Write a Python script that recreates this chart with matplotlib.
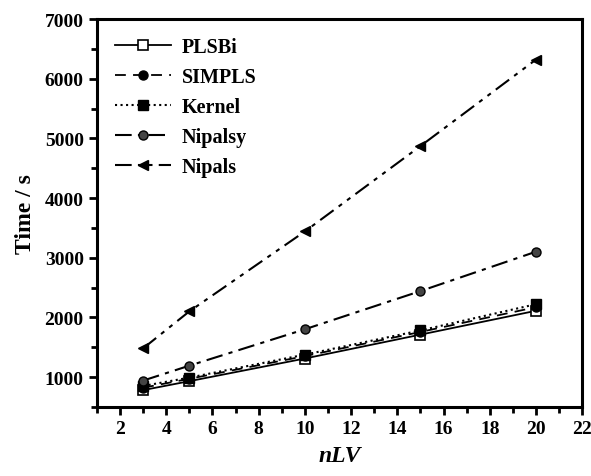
import numpy as np
import matplotlib
matplotlib.use('Agg')
import matplotlib.pyplot as plt
from matplotlib.ticker import MultipleLocator

plt.rcParams['font.family'] = 'Liberation Serif'
plt.rcParams['font.weight'] = 'bold'

# data
n_lv = [3, 5, 10, 15, 20]
plsbi = [780, 930, 1310, 1710, 2110]
simpls = [820, 970, 1350, 1755, 2170]
kernel = [850, 990, 1375, 1780, 2220]
nipalsy = [940, 1190, 1800, 2440, 3100]
nipals = [1480, 2100, 3440, 4870, 6320]

fig = plt.figure(figsize=(5.91, 4.77), dpi=100)
ax = fig.add_axes([0.164, 0.145, 0.821, 0.813])

ms = 6.5
ax.plot(n_lv, plsbi, '-', color='black', lw=1.3, marker='s', ms=ms,
        mfc='white', mec='black', mew=1.2, label='PLSBi')
ax.plot(n_lv, simpls, '--', color='black', lw=1.3, marker='o', ms=ms,
        mfc='black', mec='black', dashes=(6, 4), label='SIMPLS')
ax.plot(n_lv, kernel, ':', color='black', lw=1.5, marker='s', ms=ms,
        mfc='black', mec='black', label='Kernel')
ax.plot(n_lv, nipalsy, '-.', color='black', lw=1.5, marker='o', ms=ms,
        mfc='#444444', mec='black', dashes=(8, 3, 2, 3), label='Nipalsy')
ax.plot(n_lv, nipals, color='black', lw=1.5, marker='<', ms=ms,
        mfc='black', mec='black', dashes=(8, 3, 2, 3, 2, 3), label='Nipals')

ax.set_xlim(1, 22)
ax.set_ylim(500, 7000)
ax.xaxis.set_major_locator(MultipleLocator(2))
ax.xaxis.set_minor_locator(MultipleLocator(1))
ax.yaxis.set_minor_locator(MultipleLocator(500))
ax.set_yticks(range(1000, 7001, 1000))

ax.tick_params(which='major', direction='out', length=6, width=2,
               labelsize=14, top=False, right=False)
ax.tick_params(which='minor', direction='out', length=4, width=2,
               top=False, right=False)
for s in ax.spines.values():
    s.set_linewidth(2.2)

ax.set_xlabel('nLV', fontsize=17, fontstyle='italic', fontweight='bold', labelpad=6)
ax.set_ylabel('Time / s', fontsize=17, fontweight='bold', labelpad=6)

leg = ax.legend(loc='upper left', frameon=False, fontsize=14.5, handlelength=2.8,
                labelspacing=0.5, borderaxespad=0.5, handletextpad=0.5)

fig.savefig('out.png', dpi=100)
